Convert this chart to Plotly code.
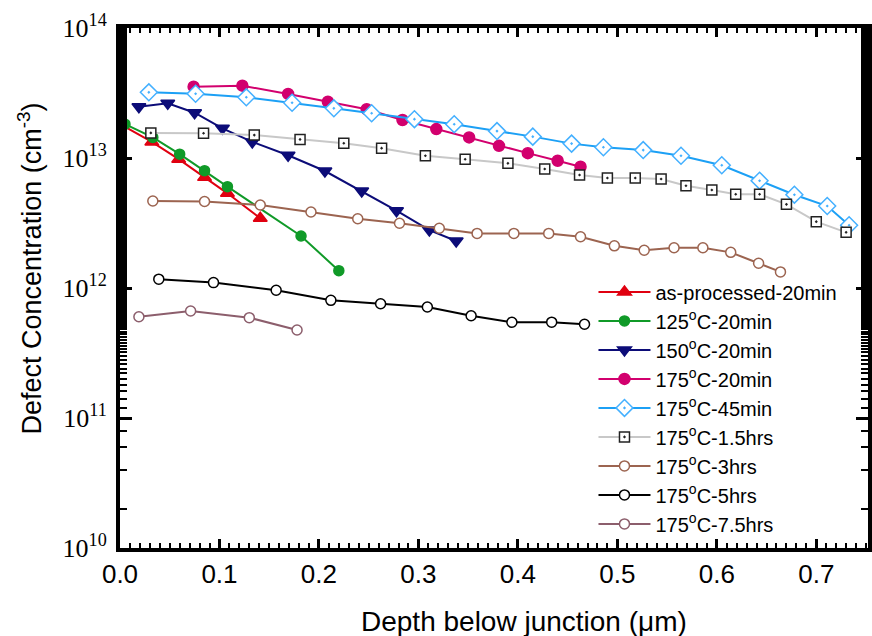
import plotly.graph_objects as go

# ---- data (depth in µm, concentration in cm^-3) ----
asproc_x = [0.002, 0.032, 0.059, 0.085, 0.108, 0.141]
asproc_y = [1.79e13, 1.33e13, 9.8e12, 7.1e12, 5.35e12, 3.44e12]

c125_x = [0.005, 0.033, 0.060, 0.085, 0.108, 0.182, 0.220]
c125_y = [1.82e13, 1.44e13, 1.07e13, 7.99e12, 6.02e12, 2.51e12, 1.36e12]

c150_x = [0.019, 0.048, 0.075, 0.103, 0.133, 0.169, 0.206, 0.243, 0.278, 0.311, 0.338]
c150_y = [2.48e13, 2.64e13, 2.23e13, 1.69e13, 1.33e13, 1.05e13, 7.94e12, 5.57e12, 3.93e12, 2.79e12, 2.30e12]

c175_20_x = [0.074, 0.123, 0.169, 0.209, 0.248, 0.284, 0.318, 0.351, 0.381, 0.410, 0.440, 0.463]
c175_20_y = [3.54e13, 3.60e13, 3.11e13, 2.71e13, 2.37e13, 1.96e13, 1.67e13, 1.44e13, 1.24e13, 1.09e13, 9.53e12, 8.57e12]

c175_45_x = [0.029, 0.076, 0.127, 0.173, 0.215, 0.253, 0.296, 0.336, 0.379, 0.415, 0.454, 0.486,
             0.526, 0.564, 0.605, 0.643, 0.678, 0.711, 0.733]
c175_45_y = [3.20e13, 3.12e13, 2.93e13, 2.66e13, 2.41e13, 2.21e13, 1.99e13, 1.82e13, 1.61e13, 1.46e13,
             1.29e13, 1.21e13, 1.15e13, 1.04e13, 8.79e12, 6.69e12, 5.22e12, 4.27e12, 3.04e12]

c175_15h_x = [0.031, 0.084, 0.135, 0.181, 0.225, 0.263, 0.307, 0.347, 0.390, 0.427, 0.462, 0.490,
              0.518, 0.544, 0.569, 0.595, 0.619, 0.643, 0.670, 0.700, 0.730]
c175_15h_y = [1.56e13, 1.55e13, 1.50e13, 1.39e13, 1.30e13, 1.19e13, 1.04e13, 9.77e12, 9.10e12, 8.23e12,
              7.40e12, 7.02e12, 7.02e12, 6.89e12, 6.12e12, 5.67e12, 5.26e12, 5.26e12, 4.40e12, 3.24e12, 2.68e12]

c175_3h_x = [0.033, 0.085, 0.141, 0.192, 0.239, 0.281, 0.321, 0.359, 0.396, 0.431, 0.463, 0.497,
             0.527, 0.557, 0.586, 0.614, 0.642, 0.664]
c175_3h_y = [4.67e12, 4.63e12, 4.35e12, 3.84e12, 3.41e12, 3.15e12, 2.88e12, 2.63e12, 2.63e12, 2.63e12,
             2.48e12, 2.11e12, 1.95e12, 2.04e12, 2.04e12, 1.88e12, 1.55e12, 1.33e12]

c175_5h_x = [0.039, 0.094, 0.157, 0.212, 0.262, 0.309, 0.353, 0.394, 0.434, 0.467]
c175_5h_y = [1.17e12, 1.10e12, 9.60e11, 8.04e11, 7.57e11, 7.14e11, 6.12e11, 5.45e11, 5.46e11, 5.26e11]

c175_75h_x = [0.019, 0.071, 0.130, 0.178]
c175_75h_y = [6.01e11, 6.65e11, 5.91e11, 4.75e11]

ytick_vals = [1e10, 1e11, 1e12, 1e13, 1e14]
ytick_text = ["10<sup>10</sup>", "10<sup>11</sup>", "10<sup>12</sup>", "10<sup>13</sup>", "10<sup>14</sup>"]

series = [
    ("as-processed-20min", asproc_x, asproc_y, "#e00010", "triangle-up", "#e00010", "#e00010", 12),
    ("125<sup>o</sup>C-20min", c125_x, c125_y, "#109a28", "circle", "#109a28", "#109a28", 10),
    ("150<sup>o</sup>C-20min", c150_x, c150_y, "#0c0c78", "triangle-down", "#0c0c78", "#0c0c78", 12),
    ("175<sup>o</sup>C-20min", c175_20_x, c175_20_y, "#d2006e", "circle", "#d2006e", "#d2006e", 11),
    ("175<sup>o</sup>C-45min", c175_45_x, c175_45_y, "#1ca0f5", "diamond-dot", "white", "#44b0ff", 13),
    ("175<sup>o</sup>C-1.5hrs", c175_15h_x, c175_15h_y, "#c8c8c8", "square-dot", "white", "#222222", 10),
    ("175<sup>o</sup>C-3hrs", c175_3h_x, c175_3h_y, "#9c6450", "circle", "white", "#9c6450", 10),
    ("175<sup>o</sup>C-5hrs", c175_5h_x, c175_5h_y, "#000000", "circle", "white", "#000000", 10),
    ("175<sup>o</sup>C-7.5hrs", c175_75h_x, c175_75h_y, "#8c5e6c", "circle", "white", "#8c5e6c", 10),
]

fig = go.Figure()
for name, xs, ys, lc, sym, fc, mlc, sz in series:
    fig.add_trace(go.Scatter(
        x=xs, y=ys, name=name, mode="lines+markers",
        line=dict(color=lc, width=2),
        marker=dict(symbol=sym, color=fc, size=sz, line=dict(color=mlc, width=1.5)),
    ))

fig.update_layout(
    width=872, height=636,
    margin=dict(l=120, r=0, t=28, b=88),
    paper_bgcolor="white", plot_bgcolor="white",
    font=dict(family="Liberation Sans, Arial, sans-serif", size=22, color="black"),
    legend=dict(x=0.633, y=0.53, xanchor="left", yanchor="top",
                bgcolor="rgba(0,0,0,0)", font=dict(size=20), tracegroupgap=0,
                itemwidth=52),
    showlegend=True,
    annotations=[
        dict(text="Depth below junction (\u03bcm)", xref="paper", yref="paper",
             x=0.54, y=-0.142, xanchor="center", yanchor="middle", showarrow=False,
             font=dict(size=28)),
        dict(text="Defect Concentration (cm<sup>-3</sup>)", xref="paper", yref="paper",
             x=-0.12, y=0.538, xanchor="center", yanchor="middle", showarrow=False,
             textangle=-90, font=dict(size=27)),
    ],
)

fig.update_xaxes(
    range=[0, 0.752], dtick=0.1, tickformat=".1f",
    showline=True, linewidth=4, linecolor="black", mirror="allticks",
    ticks="inside", ticklen=9, tickwidth=3, tickcolor="black",
    minor=dict(dtick=0.01, ticks="inside", ticklen=5, tickwidth=1.5, tickcolor="black"),
    showgrid=False, zeroline=False,
    tickfont=dict(size=26),
)

fig.update_yaxes(
    type="log", range=[10, 14],
    tickvals=ytick_vals, ticktext=ytick_text,
    showline=True, linewidth=4, linecolor="black", mirror="allticks",
    ticks="inside", ticklen=12, tickwidth=3, tickcolor="black",
    minor=dict(ticks="inside", ticklen=7, tickwidth=2, tickcolor="black", showgrid=False),
    showgrid=False, zeroline=False,
    tickfont=dict(family="Liberation Serif, Times New Roman, serif", size=26),
    ticklabelstandoff=4,
)

fig.write_html("out.html")
